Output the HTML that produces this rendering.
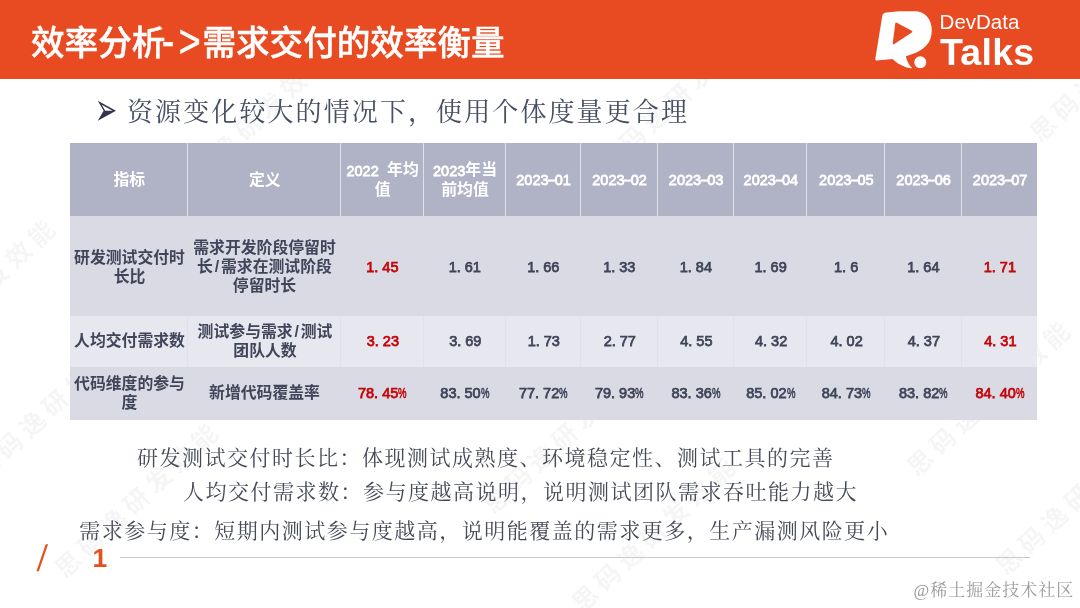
<!DOCTYPE html>
<html lang="zh-CN">
<head>
<meta charset="utf-8">
<title>效率分析-&gt;需求交付的效率衡量</title>
<style>
*{margin:0;padding:0;box-sizing:border-box}
html,body{width:1080px;height:608px;overflow:hidden;background:#fff}
body{position:relative;font-family:"Liberation Sans","Noto Sans CJK SC",sans-serif}
.abs{position:absolute;white-space:nowrap}
#hdr{position:absolute;left:0;top:0;width:1080px;height:79px;background:#e84b21}
#title{left:31px;top:18.5px;font-size:33.6px;line-height:50px;font-weight:500;color:#fff;-webkit-text-stroke:0.45px #fff}
#title span{display:inline-block;letter-spacing:4px;margin-left:-1.5px;margin-right:-.2px;transform:translateY(-2px) scale(1.12,1.4)}
#logo{position:absolute;left:865px;top:5px;width:80px;height:70px}
#dev{left:939.6px;top:7.2px;font-size:20.5px;line-height:30px;color:#fff;font-weight:400}
#talks{left:940px;top:29.6px;font-size:37.5px;line-height:44px;color:#fff;font-weight:700;letter-spacing:0.25px}
.serif{font-family:"Liberation Serif","Noto Serif CJK SC",serif}
#sub{left:127px;top:93px;font-size:26px;letter-spacing:2.1px;line-height:40px;color:#464e61;font-weight:400}
#bul{left:96px;top:91.1px;font-size:24px;line-height:40px;color:#2f3550;font-family:"Liberation Sans","DejaVu Sans",sans-serif;transform:scale(1.12,1.9);transform-origin:50% 53%}
.note{font-size:21px;letter-spacing:1.5px;line-height:32px;color:#454a57;font-weight:400}
#n1{left:137px;top:442.3px}
#n2{left:183px;top:475.8px}
#n3{left:79.2px;top:514.8px}
#tbl{position:absolute;left:70px;top:143px;width:967px;height:276.5px}
.row{position:absolute;left:0;width:967px}
.c{position:absolute;top:0;height:100%;display:flex;align-items:center;justify-content:center;text-align:center;font-weight:700;font-size:15.85px;line-height:19px;color:#40455a;padding-top:1.4px;padding-left:2px}
.c u{text-decoration:none;margin:0 1.8px}
.n{font-size:14.5px;padding-left:2px}
.n i{font-style:normal;margin-right:4px}
.n>span{display:inline-block;transform:translateY(.9px);font-weight:400;-webkit-text-stroke:.75px currentColor}
.h b{font-size:14.5px;font-weight:400;-webkit-text-stroke:.8px #fff;line-height:1;display:inline-block;transform:translateY(.6px)}
.h b i{font-style:normal;margin:0 .7px;display:inline-block;transform:scaleX(1.7)}
.h .c{color:#fff;border-left:1px solid #dfe0e8;padding-top:1.5px;padding-bottom:0;padding-left:1.5px;line-height:20px;word-spacing:4px}
.h .c:first-child{border-left:none}
.h .c:nth-child(n+5){padding-top:0;padding-bottom:1.4px}
.h .c:nth-child(-n+4){padding-top:.8px}
.r{color:#c4060a !important}
.h{top:0;height:72.8px;background:#b0b2c5}
.r1{top:72.8px;height:100.2px;background:#d9dae3}
.r2{top:173px;height:50.5px;background:#e7e7f0}
.r3{top:223.5px;height:53px;background:#d9dae3}
.r2 .c{border-left:1px solid #dfe0e9;padding-top:0;padding-bottom:.6px}
.r3 .c{padding-top:0;padding-bottom:.8px}
.n s{text-decoration:none;display:inline-block;width:8.5px;transform:scaleX(.66);transform-origin:0 50%;-webkit-text-stroke:.6px currentColor}
.r2 .c:first-child{border-left:none}
.c0{left:0px;width:117px}.c1{left:117px;width:153px}.c2{left:270px;width:82.75px}.c3{left:352.75px;width:82px}
.c4{left:434.75px;width:75.15px}.c5{left:509.9px;width:76.85px}.c6{left:586.75px;width:76.25px}.c7{left:663px;width:73.25px}
.c8{left:736.25px;width:77.75px}.c9{left:814px;width:76.75px}.c10{left:890.75px;width:76.25px}
#foot-line{position:absolute;left:120px;top:557px;width:910px;height:1px;background:#c9c9c9}
#slash{left:37.5px;top:540.5px;font-size:30px;line-height:36px;color:#e5501f;transform:skewX(-6.8deg) scaleY(1.233);transform-origin:50% 50%}
#pg{left:92.5px;top:542.5px;font-size:26.5px;line-height:30px;color:#e5501f;font-weight:700}
#wm{left:913.5px;top:578.4px;font-size:17px;letter-spacing:1px;line-height:26px;color:#9b9b9b;font-weight:400;font-family:"Liberation Serif","Noto Serif CJK SC",serif;text-shadow:0 0 2px #fff}
.bg{position:absolute;white-space:nowrap;font-size:25px;line-height:30px;height:30px;color:#000;opacity:.035;transform:rotate(-43deg);transform-origin:0 50%;font-weight:700;letter-spacing:6px}
</style>
</head>
<body>
<div id="bgw">
<div class="bg" style="left:59px;top:558px">思码逸研发效能</div>
<div class="bg" style="left:576px;top:592px">思码逸研发效能</div>
<div class="bg" style="left:911px;top:456px">思码逸研发效能</div>
<div class="bg" style="left:1000px;top:555px">思码逸研发效能</div>
<div class="bg" style="left:-104px;top:354px">思码逸研发效能</div>
<div class="bg" style="left:1034px;top:122px">思码逸研发效能</div>
<div class="bg" style="left:487px;top:494px">思码逸研发效能</div>
<div class="bg" style="left:-22px;top:460px">思码逸研发效能</div>
<div class="bg" style="left:171px;top:184px">思码逸研发效能</div>
<div class="bg" style="left:601px;top:154px">思码逸研发效能</div>
<div class="bg" style="left:321px;top:324px">思码逸研发效能</div>
<div class="bg" style="left:751px;top:294px">思码逸研发效能</div>
</div>
<div id="hdr"></div>
<div id="title" class="abs">效率分析<span>-&gt;</span>需求交付的效率衡量</div>
<svg id="logo" viewBox="0 0 695 608">
<path d="M158 78 Q165 68 185 66 L300 55 L430 55 C520 55 580 120 580 220 C580 330 520 400 355 445 C365 490 385 525 410 550 C350 550 280 510 240 470 L100 482 Q85 482 90 465 L150 95 Q152 82 158 78 Z" fill="#fff"/>
<path d="M272 162 L402 232 L250 332 Z" fill="#e84b21" stroke="#e84b21" stroke-width="18" stroke-linejoin="round"/>
<circle cx="480" cy="498" r="52" fill="#fff"/>
</svg>
<div id="dev" class="abs">DevData</div>
<div id="talks" class="abs">Talks</div>
<div id="bul" class="abs">➢</div>
<div id="sub" class="abs serif">资源变化较大的情况下，使用个体度量更合理</div>
<div id="tbl">
 <div class="row h">
  <div class="c c0"><span>指标</span></div><div class="c c1"><span>定义</span></div><div class="c c2"><span><b>2022</b> 年均<br>值</span></div><div class="c c3"><span><b>2023</b>年当<br>前均值</span></div>
  <div class="c c4"><span><b>2023<i>-</i>01</b></span></div><div class="c c5"><span><b>2023<i>-</i>02</b></span></div><div class="c c6"><span><b>2023<i>-</i>03</b></span></div><div class="c c7"><span><b>2023<i>-</i>04</b></span></div>
  <div class="c c8"><span><b>2023<i>-</i>05</b></span></div><div class="c c9"><span><b>2023<i>-</i>06</b></span></div><div class="c c10"><span><b>2023<i>-</i>07</b></span></div>
 </div>
 <div class="row r1">
  <div class="c c0"><span>研发测试交付时<br>长比</span></div><div class="c c1"><span>需求开发阶段停留时<br>长<u>/</u>需求在测试阶段<br>停留时长</span></div><div class="c c2 r n"><span>1<i>.</i>45</span></div><div class="c c3 n"><span>1<i>.</i>61</span></div>
  <div class="c c4 n"><span>1<i>.</i>66</span></div><div class="c c5 n"><span>1<i>.</i>33</span></div><div class="c c6 n"><span>1<i>.</i>84</span></div><div class="c c7 n"><span>1<i>.</i>69</span></div>
  <div class="c c8 n"><span>1<i>.</i>6</span></div><div class="c c9 n"><span>1<i>.</i>64</span></div><div class="c c10 r n"><span>1<i>.</i>71</span></div>
 </div>
 <div class="row r2">
  <div class="c c0"><span>人均交付需求数</span></div><div class="c c1"><span>测试参与需求<u>/</u>测试<br>团队人数</span></div><div class="c c2 r n"><span>3<i>.</i>23</span></div><div class="c c3 n"><span>3<i>.</i>69</span></div>
  <div class="c c4 n"><span>1<i>.</i>73</span></div><div class="c c5 n"><span>2<i>.</i>77</span></div><div class="c c6 n"><span>4<i>.</i>55</span></div><div class="c c7 n"><span>4<i>.</i>32</span></div>
  <div class="c c8 n"><span>4<i>.</i>02</span></div><div class="c c9 n"><span>4<i>.</i>37</span></div><div class="c c10 r n"><span>4<i>.</i>31</span></div>
 </div>
 <div class="row r3">
  <div class="c c0"><span>代码维度的参与<br>度</span></div><div class="c c1"><span>新增代码覆盖率</span></div><div class="c c2 r n"><span>78<i>.</i>45<s>%</s></span></div><div class="c c3 n"><span>83<i>.</i>50<s>%</s></span></div>
  <div class="c c4 n"><span>77<i>.</i>72<s>%</s></span></div><div class="c c5 n"><span>79<i>.</i>93<s>%</s></span></div><div class="c c6 n"><span>83<i>.</i>36<s>%</s></span></div><div class="c c7 n"><span>85<i>.</i>02<s>%</s></span></div>
  <div class="c c8 n"><span>84<i>.</i>73<s>%</s></span></div><div class="c c9 n"><span>83<i>.</i>82<s>%</s></span></div><div class="c c10 r n"><span>84<i>.</i>40<s>%</s></span></div>
 </div>
</div>
<div id="n1" class="abs serif note">研发测试交付时长比：体现测试成熟度、环境稳定性、测试工具的完善</div>
<div id="n2" class="abs serif note">人均交付需求数：参与度越高说明，说明测试团队需求吞吐能力越大</div>
<div id="n3" class="abs serif note">需求参与度：短期内测试参与度越高，说明能覆盖的需求更多，生产漏测风险更小</div>
<div id="slash" class="abs">/</div>
<div id="pg" class="abs">1</div>
<div id="foot-line"></div>
<div id="wm" class="abs">@稀土掘金技术社区</div>
</body>
</html>
